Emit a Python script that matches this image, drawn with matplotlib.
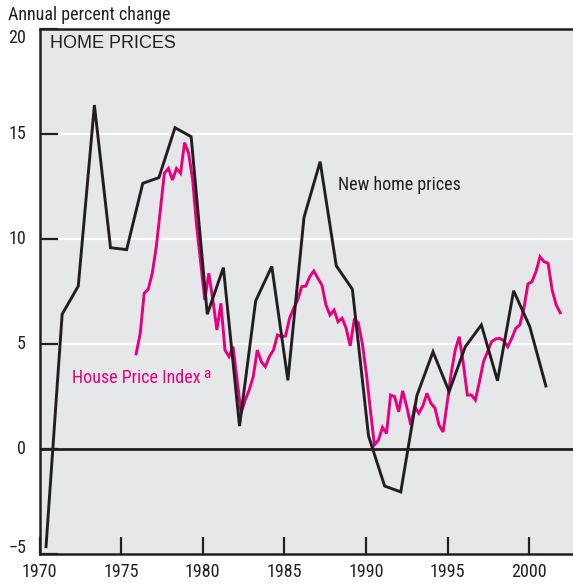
import numpy as np
import matplotlib
matplotlib.use("Agg")
import matplotlib.pyplot as plt
from matplotlib import font_manager as fm

# ---------------- data ----------------
new_home_years = list(range(1970, 2002))
new_home_prices = [-4.67, 6.41, 7.75, 16.38, 9.58, 9.49, 12.65, 12.92, 15.30, 14.87,
                   6.41, 8.63, 1.08, 7.04, 8.69, 3.26, 11.03, 13.68, 8.72, 7.60,
                   0.61, -1.78, -2.06, 2.53, 4.62, 2.72, 4.86, 5.90, 3.24, 7.53,
                   5.82, 2.99]

hpi_start_year = 1976
hpi_values = [4.52, 5.47, 7.41, 7.60, 8.36, 9.63, 11.38, 13.13, 13.36, 12.81,
              13.36, 13.13, 14.59, 14.08, 12.81, 10.58, 8.84, 7.09, 8.36, 7.09,
              5.66, 6.93, 4.70, 4.39, 4.86, 3.27, 1.69, 2.32, 2.80, 3.43,
              4.70, 4.15, 3.91, 4.39, 4.70, 5.42, 5.34, 5.37, 6.22, 6.69,
              7.09, 7.72, 7.75, 8.20, 8.47, 8.12, 7.80, 6.85, 6.37, 6.61,
              6.05, 6.22, 5.74, 4.90, 6.13, 6.01, 5.02, 3.59, 1.84, 0.18,
              0.41, 1.02, 0.73, 2.56, 2.48, 1.76, 2.76, 2.00, 1.13, 2.00,
              1.69, 2.04, 2.64, 2.16, 1.93, 1.13, 0.80, 2.16, 3.59, 4.70,
              5.34, 4.07, 2.56, 2.56, 2.32, 3.19, 4.15, 4.62, 5.10, 5.23,
              5.26, 5.15, 4.86, 5.26, 5.74, 5.90, 6.69, 7.85, 7.96, 8.44,
              9.15, 8.91, 8.84, 7.56, 6.85, 6.48]
hpi_dates = hpi_start_year + 0.25 * np.arange(len(hpi_values))

x_ticks = [1970, 1975, 1980, 1985, 1990, 1995, 2000]
y_ticks = [-5, 0, 5, 10, 15, 20]
y_tick_labels = ["\u22125", "0", "5", "10", "15", "20"]

# ---------------- fonts ----------------
available = {f.name for f in fm.fontManager.ttflist}
if "Liberation Sans Narrow" in available:
    NARROW = ["Liberation Sans Narrow", "DejaVu Sans"]
    NSIZE = 13
elif "Roboto Condensed" in available:
    NARROW = ["Roboto Condensed", "DejaVu Sans"]
    NSIZE = 13
else:
    NARROW = ["Roboto", "DejaVu Sans"]
    NSIZE = 11
REG = ["Liberation Sans", "DejaVu Sans"]

# ---------------- style ----------------
W, H = 573, 584
DARK = "#231F20"
MAGENTA = "#E6007E"
BG = "#E6E7E8"

fig = plt.figure(figsize=(W / 100, H / 100), dpi=100)
ax_left, ax_top, ax_bottom = 39.5, 29.1, 553.6
ax = fig.add_axes([ax_left / W, (H - ax_bottom) / H, (W - ax_left) / W, (ax_bottom - ax_top) / H])
ax.set_facecolor(BG)
ax.set_xlim(1970, 1970 + (W - ax_left) / 16.32)
ax.set_ylim(-5, 20)

# grid lines (white) and zero line
for v in [5, 10, 15]:
    ax.axhline(v, color="white", lw=1.6, zorder=1)
ax.axhline(0, color=DARK, lw=2.0, zorder=2)

# series (slight horizontal compression as in the original drawing)
xb = 1970.40 + (np.array(new_home_years) - 1970) * 0.988
xh = 1975.92 + (hpi_dates - 1976) * 0.99
ax.plot(xh, hpi_values, color=MAGENTA, lw=2.1, zorder=3, solid_joinstyle="miter")
ax.plot(xb, new_home_prices, color=DARK, lw=2.1, zorder=4, solid_joinstyle="miter")

# spines
for s in ["left", "top", "bottom"]:
    ax.spines[s].set_color(DARK)
    ax.spines[s].set_linewidth(1.8)
ax.spines["right"].set_visible(False)

ax.set_xticks(x_ticks)
ax.set_xticklabels([str(t) for t in x_ticks], fontfamily=NARROW, fontsize=NSIZE, color=DARK)
ax.tick_params(axis="x", direction="in", length=12, width=1.6, color=DARK, pad=7)
ax.set_yticks(y_ticks)
ax.set_yticklabels([])
ax.tick_params(axis="y", direction="in", length=13, width=1.6, color=DARK)

# y tick labels (placed manually; top and bottom nudged inward as in original)
ytr = ax.get_yaxis_transform()
for v, lab in zip(y_ticks, y_tick_labels):
    yy = v
    if v == 20:
        yy = 19.57
    elif v == -5:
        yy = -4.75
    ax.text(-13.5 / (W - ax_left), yy, lab, transform=ytr, ha="right", va="center",
            fontfamily=NARROW, fontsize=NSIZE, color=DARK)

# texts
fig.text(8 / W, 1 - 15 / H, "Annual percent change", ha="left", va="center",
         fontfamily=NARROW, fontsize=NSIZE, color=DARK)
fig.text(50 / W, 1 - 44 / H, "HOME PRICES", ha="left", va="center",
         fontfamily=REG, fontsize=13, color=DARK)
fig.text(338 / W, 1 - 185 / H, "New home prices", ha="left", va="center",
         fontfamily=NARROW, fontsize=NSIZE, color=DARK)
t_hpi = fig.text(72 / W, 1 - 378 / H, "House Price Index", ha="left", va="center",
                 fontfamily=NARROW, fontsize=NSIZE, color=MAGENTA)
fig.canvas.draw()
bb = t_hpi.get_window_extent()
fig.text((bb.x1 + 2) / W, (bb.y1 - 5) / H, "a", ha="left", va="center",
         fontfamily=NARROW, fontsize=NSIZE - 2, color=MAGENTA)

fig.savefig("out.png", dpi=100)
